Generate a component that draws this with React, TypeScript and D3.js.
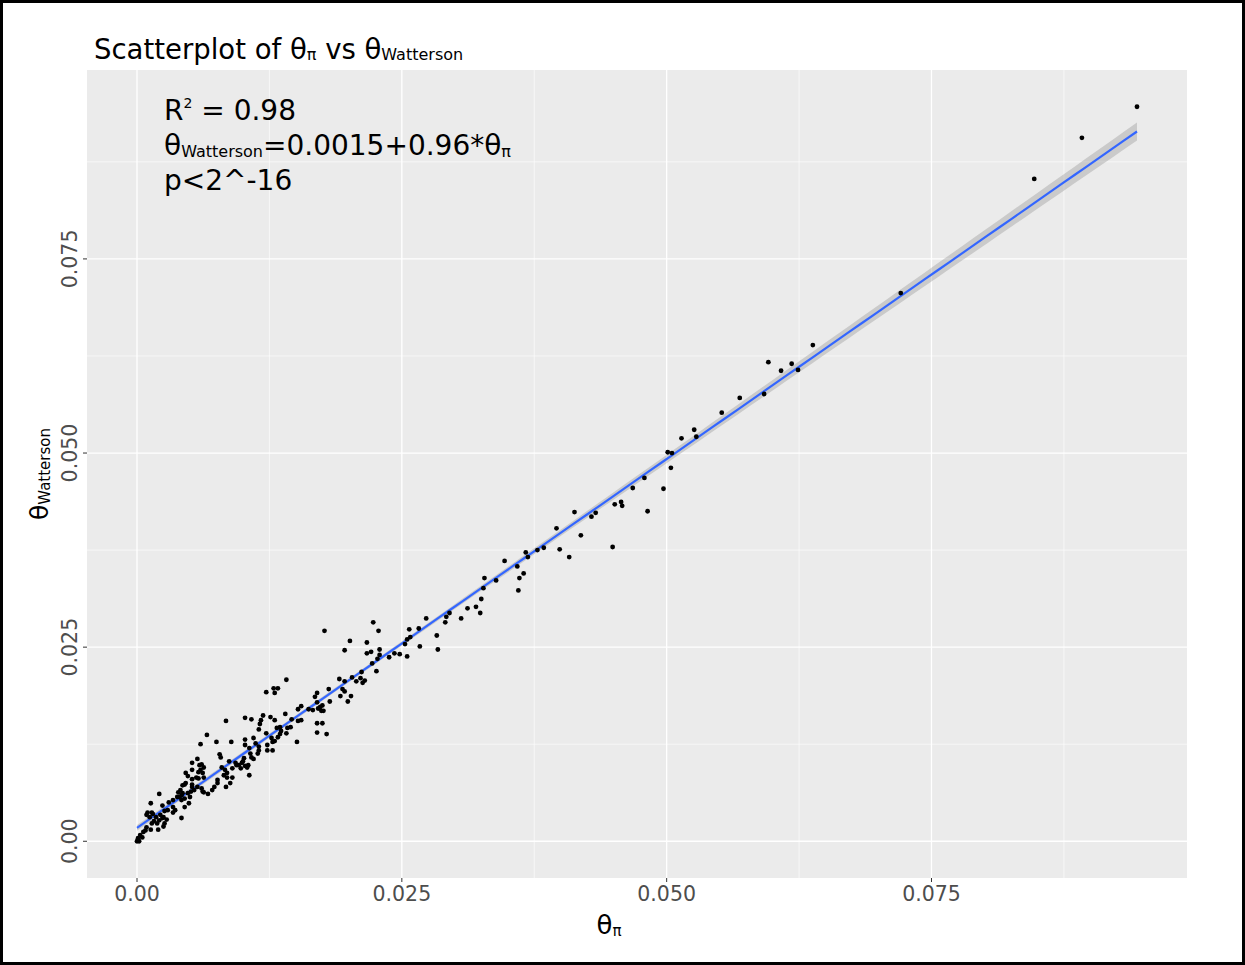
import React from 'react';
import * as d3 from 'd3';

// [theta_pi, theta_watterson]
const points: [number, number][] = [
  [0.0000, 0.0000], [0.0001, 0.0004], [0.0002, 0.0000], [0.0003, 0.0008], [0.0005, 0.0005],
  [0.0006, 0.0012], [0.0008, 0.0014], [0.0009, 0.0018], [0.0013, 0.0015], [0.0009, 0.0034],
  [0.0010, 0.0037], [0.0012, 0.0031], [0.0014, 0.0037], [0.0015, 0.0035], [0.0013, 0.0049],
  [0.0014, 0.0023], [0.0016, 0.0026], [0.0018, 0.0031], [0.0019, 0.0023], [0.0020, 0.0015],
  [0.0021, 0.0027], [0.0022, 0.0034], [0.0021, 0.0061], [0.0024, 0.0030], [0.0024, 0.0046],
  [0.0025, 0.0019], [0.0025, 0.0031], [0.0026, 0.0023], [0.0026, 0.0039], [0.0028, 0.0028],
  [0.0029, 0.0040], [0.0030, 0.0050], [0.0034, 0.0053], [0.0034, 0.0044], [0.0034, 0.0037],
  [0.0036, 0.0040], [0.0038, 0.0057], [0.0039, 0.0063], [0.0040, 0.0057], [0.0041, 0.0066],
  [0.0042, 0.0059], [0.0042, 0.0053], [0.0042, 0.0030], [0.0043, 0.0062], [0.0043, 0.0072],
  [0.0045, 0.0055], [0.0045, 0.0044], [0.0045, 0.0073], [0.0046, 0.0088], [0.0046, 0.0075],
  [0.0048, 0.0084], [0.0048, 0.0062], [0.0049, 0.0049], [0.0050, 0.0057], [0.0051, 0.0064],
  [0.0052, 0.0101], [0.0052, 0.0092], [0.0052, 0.0080], [0.0052, 0.0073], [0.0052, 0.0070],
  [0.0054, 0.0066], [0.0056, 0.0082], [0.0057, 0.0106], [0.0057, 0.0070], [0.0058, 0.0089],
  [0.0058, 0.0081], [0.0059, 0.0098], [0.0060, 0.0125], [0.0060, 0.0092], [0.0061, 0.0099],
  [0.0061, 0.0068], [0.0062, 0.0088], [0.0062, 0.0064], [0.0063, 0.0095], [0.0063, 0.0082],
  [0.0063, 0.0063], [0.0066, 0.0137], [0.0067, 0.0061], [0.0071, 0.0066], [0.0073, 0.0070],
  [0.0075, 0.0128], [0.0076, 0.0079], [0.0076, 0.0075], [0.0078, 0.0112], [0.0079, 0.0108],
  [0.0080, 0.0095], [0.0082, 0.0085], [0.0083, 0.0092], [0.0084, 0.0155], [0.0084, 0.0070],
  [0.0085, 0.0088], [0.0085, 0.0082], [0.0087, 0.0103], [0.0088, 0.0075], [0.0089, 0.0128],
  [0.0090, 0.0094], [0.0090, 0.0082], [0.0093, 0.0101], [0.0094, 0.0098], [0.0096, 0.0098],
  [0.0098, 0.0094], [0.0099, 0.0101], [0.0100, 0.0103], [0.0101, 0.0107], [0.0102, 0.0159],
  [0.0102, 0.0131], [0.0102, 0.0124], [0.0102, 0.0097], [0.0104, 0.0095], [0.0105, 0.0098],
  [0.0106, 0.0120], [0.0106, 0.0085], [0.0107, 0.0113], [0.0108, 0.0157], [0.0108, 0.0108],
  [0.0110, 0.0133], [0.0110, 0.0106], [0.0112, 0.0126], [0.0114, 0.0113], [0.0115, 0.0144],
  [0.0115, 0.0122], [0.0115, 0.0117], [0.0116, 0.0151], [0.0117, 0.0156], [0.0119, 0.0162],
  [0.0122, 0.0192], [0.0122, 0.0139], [0.0123, 0.0124], [0.0123, 0.0117], [0.0126, 0.0160],
  [0.0127, 0.0133], [0.0128, 0.0128], [0.0128, 0.0117], [0.0129, 0.0197], [0.0130, 0.0191],
  [0.0130, 0.0156], [0.0130, 0.0129], [0.0132, 0.0146], [0.0133, 0.0197], [0.0133, 0.0134],
  [0.0135, 0.0138], [0.0135, 0.0147], [0.0136, 0.0142], [0.0140, 0.0164], [0.0141, 0.0208],
  [0.0141, 0.0139], [0.0142, 0.0146], [0.0145, 0.0147], [0.0146, 0.0157], [0.0151, 0.0128],
  [0.0152, 0.0170], [0.0152, 0.0155], [0.0155, 0.0174], [0.0155, 0.0156], [0.0162, 0.0170],
  [0.0166, 0.0169], [0.0168, 0.0186], [0.0170, 0.0191], [0.0170, 0.0179], [0.0170, 0.0152],
  [0.0170, 0.0140], [0.0171, 0.0171], [0.0173, 0.0173], [0.0174, 0.0168], [0.0175, 0.0175],
  [0.0175, 0.0152], [0.0176, 0.0168], [0.0177, 0.0271], [0.0179, 0.0138], [0.0181, 0.0196],
  [0.0182, 0.0180], [0.0191, 0.0209], [0.0192, 0.0187], [0.0194, 0.0196], [0.0196, 0.0246],
  [0.0196, 0.0206], [0.0196, 0.0193], [0.0199, 0.0180], [0.0201, 0.0258], [0.0202, 0.0187],
  [0.0203, 0.0211], [0.0207, 0.0206], [0.0211, 0.0210], [0.0212, 0.0218], [0.0213, 0.0204],
  [0.0215, 0.0207], [0.0217, 0.0256], [0.0217, 0.0242], [0.0221, 0.0244], [0.0222, 0.0229],
  [0.0223, 0.0282], [0.0226, 0.0219], [0.0227, 0.0235], [0.0228, 0.0271], [0.0229, 0.0247],
  [0.0229, 0.0240], [0.0238, 0.0237], [0.0243, 0.0242], [0.0248, 0.0241], [0.0253, 0.0254],
  [0.0255, 0.0260], [0.0255, 0.0238], [0.0257, 0.0273], [0.0258, 0.0263], [0.0266, 0.0274],
  [0.0267, 0.0251], [0.0273, 0.0287], [0.0283, 0.0265], [0.0284, 0.0247], [0.0291, 0.0282],
  [0.0292, 0.0289], [0.0295, 0.0294], [0.0306, 0.0287], [0.0312, 0.0300], [0.0320, 0.0302],
  [0.0324, 0.0294], [0.0325, 0.0312], [0.0327, 0.0326], [0.0328, 0.0339], [0.0339, 0.0336],
  [0.0347, 0.0361], [0.0359, 0.0354], [0.0360, 0.0323], [0.0361, 0.0339], [0.0365, 0.0345],
  [0.0367, 0.0372], [0.0369, 0.0366], [0.0378, 0.0375], [0.0384, 0.0378], [0.0396, 0.0403],
  [0.0399, 0.0376], [0.0408, 0.0366], [0.0413, 0.0424], [0.0419, 0.0394], [0.0429, 0.0418],
  [0.0433, 0.0423], [0.0449, 0.0379], [0.0451, 0.0434], [0.0457, 0.0437], [0.0458, 0.0432],
  [0.0468, 0.0455], [0.0479, 0.0468], [0.0482, 0.0425], [0.0497, 0.0454], [0.0501, 0.0501],
  [0.0505, 0.0500], [0.0504, 0.0481], [0.0514, 0.0519], [0.0526, 0.0530], [0.0528, 0.0521],
  [0.0552, 0.0552], [0.0569, 0.0571], [0.0592, 0.0576], [0.0596, 0.0617], [0.0608, 0.0606],
  [0.0618, 0.0615], [0.0624, 0.0607], [0.0638, 0.0639], [0.0721, 0.0706], [0.0847, 0.0853],
  [0.0892, 0.0906], [0.0944, 0.0946],
];

const majorTicks = [0, 0.025, 0.05, 0.075];
const tickLabels = ['0.00', '0.025', '0.050', '0.075'];
const minorTicks = [0.0125, 0.0375, 0.0625, 0.0875];

const W = 1245;
const H = 965;
const panel = { left: 87, right: 1187, top: 70, bottom: 878 };
const font = "'DejaVu Sans', sans-serif";

// plain least squares with a 95% confidence band, like geom_smooth(method = "lm")
function fitLm(pts: [number, number][]) {
  const n = pts.length;
  const mx = d3.mean(pts, p => p[0]) as number;
  const my = d3.mean(pts, p => p[1]) as number;
  let sxx = 0, sxy = 0;
  pts.forEach(([x, y]) => { sxx += (x - mx) ** 2; sxy += (x - mx) * (y - my); });
  const b = sxy / sxx;
  const a = my - b * mx;
  let sse = 0;
  pts.forEach(([x, y]) => { sse += (y - a - b * x) ** 2; });
  const s = Math.sqrt(sse / (n - 2));
  const t = 1.969;
  const se = (x: number) => s * Math.sqrt(1 / n + (x - mx) ** 2 / sxx);
  return { a, b, band: (x: number) => t * se(x) };
}

export default function App() {
  const [x0, x1] = d3.extent(points, p => p[0]) as [number, number];
  const [y0, y1] = d3.extent(points, p => p[1]) as [number, number];
  const px = (x1 - x0) * 0.05;
  const py = (y1 - y0) * 0.05;

  const x = d3.scaleLinear().domain([x0 - px, x1 + px]).range([panel.left, panel.right]);
  const y = d3.scaleLinear().domain([y0 - py, y1 + py]).range([panel.bottom, panel.top]);

  const fit = fitLm(points);
  const grid = d3.range(81).map(i => x0 + (x1 - x0) * i / 80);

  const band = d3.area<number>()
    .x(d => x(d))
    .y0(d => y(fit.a + fit.b * d - fit.band(d)))
    .y1(d => y(fit.a + fit.b * d + fit.band(d)));
  const line = d3.line<number>()
    .x(d => x(d))
    .y(d => y(fit.a + fit.b * d));

  const pw = panel.right - panel.left;
  const ph = panel.bottom - panel.top;

  return (
    <div style={{ position: 'absolute', left: 0, top: 0 }}>
      <svg width={W} height={H} style={{ display: 'block', background: '#fff' }}>
        <rect x={1.5} y={1.5} width={W - 3} height={H - 3} fill="#fff" stroke="#000" strokeWidth={3} />

        {/* title */}
        <text x={94} y={59} fontFamily={font} fontSize={27.5} fill="#000">
          Scatterplot of θ<tspan fontSize={16} dy={1}>π</tspan>
          <tspan dy={-1}> vs θ</tspan>
          <tspan fontSize={16} dy={1}>Watterson</tspan>
        </text>

        {/* panel */}
        <rect x={panel.left} y={panel.top} width={pw} height={ph} fill="#EBEBEB" />
        {minorTicks.map(v => (
          <g key={'m' + v}>
            {x(v) < panel.right && <line x1={x(v)} x2={x(v)} y1={panel.top} y2={panel.bottom} stroke="#fff" strokeWidth={0.6} />}
            {y(v) > panel.top && <line x1={panel.left} x2={panel.right} y1={y(v)} y2={y(v)} stroke="#fff" strokeWidth={0.6} />}
          </g>
        ))}
        {majorTicks.map(v => (
          <g key={'M' + v}>
            <line x1={x(v)} x2={x(v)} y1={panel.top} y2={panel.bottom} stroke="#fff" strokeWidth={1.3} />
            <line x1={panel.left} x2={panel.right} y1={y(v)} y2={y(v)} stroke="#fff" strokeWidth={1.3} />
          </g>
        ))}

        {/* smoother */}
        <path d={band(grid) || ''} fill="#999999" fillOpacity={0.4} />
        <path d={line(grid) || ''} fill="none" stroke="#3366FF" strokeWidth={2.2} />

        {/* points */}
        {points.map((p, i) => (
          <circle key={i} cx={x(p[0])} cy={y(p[1])} r={2.4} fill="#000" />
        ))}

        {/* annotation */}
        <g fontFamily={font} fill="#000">
          <text x={164} y={120} fontSize={28}>
            R<tspan fontSize={14} dy={-12}>2</tspan><tspan dy={12}> = 0.98</tspan>
          </text>
          <text x={164} y={155} fontSize={28}>
            θ<tspan fontSize={16} dy={2}>Watterson</tspan><tspan dy={-2}>=0.0015+0.96*θ</tspan>
            <tspan fontSize={16} dy={2}>π</tspan>
          </text>
          <text x={164} y={190} fontSize={28}>p&lt;2^-16</text>
        </g>

        {/* x axis */}
        {majorTicks.map((v, i) => (
          <g key={'xt' + v}>
            <line x1={x(v)} x2={x(v)} y1={panel.bottom} y2={panel.bottom + 4} stroke="#333" strokeWidth={1} />
            <text x={x(v)} y={901} textAnchor="middle" fontFamily={font} fontSize={20.5} fill="#4D4D4D">{tickLabels[i]}</text>
          </g>
        ))}
        <text x={609} y={934} textAnchor="middle" fontFamily={font} fontSize={26} fill="#000">
          θ<tspan fontSize={15} dy={2}>π</tspan>
        </text>

        {/* y axis */}
        {majorTicks.map((v, i) => (
          <g key={'yt' + v}>
            <line x1={panel.left - 4} x2={panel.left} y1={y(v)} y2={y(v)} stroke="#333" strokeWidth={1} />
            <text transform={`translate(77,${y(v)}) rotate(-90)`} textAnchor="middle" fontFamily={font} fontSize={20.5} fill="#4D4D4D">{tickLabels[i]}</text>
          </g>
        ))}
        <text transform={`translate(48,${(panel.top + panel.bottom) / 2}) rotate(-90)`} textAnchor="middle" fontFamily={font} fontSize={25} fill="#000">
          θ<tspan fontSize={15} dy={2}>Watterson</tspan>
        </text>
      </svg>
    </div>
  );
}
